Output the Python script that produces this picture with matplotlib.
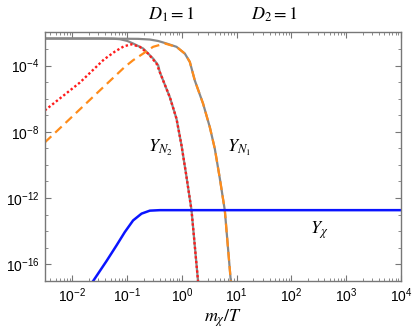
import numpy as np
import matplotlib
matplotlib.use("Agg")
import matplotlib.pyplot as plt
from matplotlib.ticker import LogLocator, NullFormatter, FixedLocator, LogFormatterSciNotation

plt.rcParams['mathtext.fontset'] = 'stix'
plt.rcParams['font.family'] = ['Liberation Sans', 'DejaVu Sans']

# values, as log10 exponents
# gray: equilibrium abundances (inner one tracks Y_N2, outer one tracks Y_N1)
eq2_logx = [-2.5, -1.496, -1.25, -1.131, -1.0, -0.889, -0.706, -0.524, -0.432, -0.401,
            -0.219, -0.097, -0.005, 0.08, 0.177, 0.297]
eq2_logy = [-2.37, -2.37, -2.38, -2.41, -2.51, -2.67, -2.97, -3.58, -3.98, -4.40,
            -5.91, -7.21, -8.83, -10.6, -12.73, -17.05]
eq1_logx = [-2.5, -1.496, -0.80, -0.584, -0.43, -0.279, -0.097, 0.055, 0.146, 0.237,
            0.389, 0.511, 0.602, 0.693, 0.785, 0.895]
eq1_logy = [-2.37, -2.37, -2.39, -2.43, -2.52, -2.67, -2.87, -3.28, -3.78, -4.90,
            -6.31, -7.72, -9.02, -10.8, -12.75, -17.05]

# red dotted: Y_N2
n2_logx = [-2.5, -1.861, -1.423, -1.222, -1.058, -0.918, -0.766, -0.615, -0.462,
           -0.401, -0.219, -0.097, -0.005, 0.08, 0.177, 0.297]
n2_logy = [-6.71, -5.03, -3.64, -3.16, -2.84, -2.72, -2.87, -3.28, -3.88,
           -4.40, -5.91, -7.21, -8.83, -10.6, -12.73, -17.05]

# orange dashed: Y_N1
n1_logx = [-2.5, -2.172, -1.588, -1.040, -0.889, -0.706, -0.524, -0.310, -0.128,
           -0.097, 0.055, 0.146, 0.237, 0.389, 0.511, 0.602, 0.693, 0.785, 0.895]
n1_logy = [-8.64, -7.62, -5.79, -4.08, -3.68, -3.28, -2.87, -2.67, -2.85,
           -2.87, -3.28, -3.78, -4.90, -6.31, -7.72, -9.02, -10.8, -12.75, -17.05]

# blue: Y_chi
chi_logx = [-1.619, -1.374, -1.192, -1.040, -0.889, -0.735, -0.584, -0.401, -0.2, 4.0]
chi_logy = [-17.01, -15.80, -14.86, -14.05, -13.35, -12.94, -12.76, -12.73, -12.73, -12.73]


def pw(v):
    return 10.0 ** np.array(v)


fig = plt.figure(figsize=(4.19, 3.34), dpi=100)
ax = fig.add_axes([0.107, 0.159, 0.850, 0.744])

ax.plot(pw(eq2_logx), pw(eq2_logy), color='#888888', lw=1.6)
ax.plot(pw(eq1_logx), pw(eq1_logy), color='#888888', lw=1.6)
ax.plot(pw(n2_logx), pw(n2_logy), color='#ff1a1a', lw=1.7, dashes=(1, 1))
ax.plot(pw(n1_logx), pw(n1_logy), color='#ff8c1a', lw=1.6, dashes=(4, 2.4))
ax.plot(pw(chi_logx), pw(chi_logy), color='#0a14ff', lw=1.8)

ax.set_xscale('log')
ax.set_yscale('log')
ax.set_xlim(10 ** -2.5, 1e4)
ax.set_ylim(1e-17, 1e-2)

ax.xaxis.set_major_locator(FixedLocator([10.0 ** k for k in range(-2, 5)]))
ax.xaxis.set_minor_locator(LogLocator(base=10, subs=np.arange(2, 10), numticks=20))
ax.xaxis.set_minor_formatter(NullFormatter())
ax.xaxis.set_major_formatter(LogFormatterSciNotation())

ax.yaxis.set_major_locator(FixedLocator([1e-4, 1e-8, 1e-12, 1e-16]))
ax.yaxis.set_minor_locator(FixedLocator([10.0 ** k for k in range(-17, -1)]))
ax.yaxis.set_minor_formatter(NullFormatter())
ax.yaxis.set_major_formatter(LogFormatterSciNotation())

for s in ax.spines.values():
    s.set_color('#777777')
    s.set_linewidth(1.0)
ax.tick_params(which='both', direction='in', top=True, right=True, color='#777777',
               labelsize=10, pad=4)
ax.tick_params(which='major', length=4)
ax.tick_params(which='minor', length=2)

ax.set_xlabel(r'$m_\chi/T$', fontsize=13, labelpad=2)

ax.text(0.40, 1e-9, r'$Y_{N_2}$', fontsize=13, ha='center', va='center')
ax.text(11, 1e-9, r'$Y_{N_1}$', fontsize=13, ha='center', va='center')
ax.text(316, 10 ** -13.95, r'$Y_\chi$', fontsize=13, ha='center', va='center')

fig.text(0.41, 0.955, r'$D_1 = 1$', fontsize=13, ha='center', va='center')
fig.text(0.655, 0.955, r'$D_2 = 1$', fontsize=13, ha='center', va='center')

fig.savefig('out.png', dpi=100)
